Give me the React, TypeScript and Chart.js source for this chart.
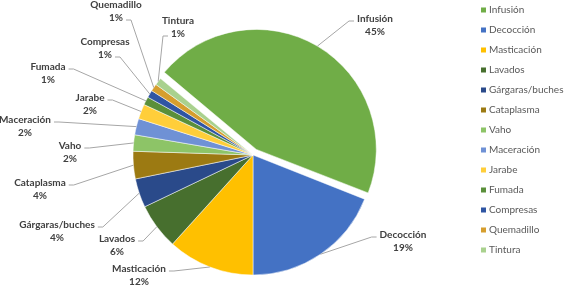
import React, { useEffect, useRef } from "react";
import { Chart, registerables } from "chart.js";

Chart.register(...registerables);

// ---- data ----
const categories = [
  "Infusión",
  "Decocción",
  "Masticación",
  "Lavados",
  "Gárgaras/buches",
  "Cataplasma",
  "Vaho",
  "Maceración",
  "Jarabe",
  "Fumada",
  "Compresas",
  "Quemadillo",
  "Tintura",
];
const values = [45, 19, 11.7, 6.2, 3.9, 3.7, 2.2, 2.2, 2.0, 1.1, 1.0, 1.0, 1.0];
const colors = [
  "#70AD47",
  "#4472C4",
  "#FFC000",
  "#476F2E",
  "#2A4A8A",
  "#9C7A12",
  "#8DC467",
  "#6F91D5",
  "#FFCE3A",
  "#5A8F3A",
  "#2F55A3",
  "#D69E2E",
  "#A9D18E",
];
const explode = [26, 0, 0, 0, 0, 0, 0, 0, 0, 0, 0, 0, 0];

// ---- label layout (text positions: center x, first-line y) ----
const labelPos: [number, number][] = [
  [375, 19],
  [403, 235],
  [139, 269],
  [117, 239],
  [57, 225],
  [40, 183],
  [70, 146],
  [25, 120],
  [90, 98],
  [48, 67],
  [105, 42],
  [116, 5],
  [178, 21],
];
// which text line the leader attaches to (0 = name, 1 = percentage)
const labelAttach = [0, 0, 0, 0, 0, 0, 0, 0, 0, 0, 1, 1, 1];

const total = values.reduce((a, b) => a + b, 0);
const pctLabels = values.map((v) => Math.round((v / total) * 100) + "%");

const LINE_H = 13;

const pieLabelsPlugin = {
  id: "pieLabels",
  afterDatasetsUpdate(chart: any) {
    // Keep exploded slices at the same radius as the others (Excel style)
    const meta = chart.getDatasetMeta(0);
    meta.data.forEach((arc: any) => {
      const off = (arc.options?.offset || 0) / 4;
      if (off > 0) {
        const circ = arc.endAngle - arc.startAngle;
        const fix = 1 - Math.sin(Math.min(Math.PI, circ || 0));
        arc.outerRadius = arc.outerRadius - off * fix;
      }
    });
  },
  afterDraw(chart: any) {
    const ctx: CanvasRenderingContext2D = chart.ctx;
    const meta = chart.getDatasetMeta(0);
    ctx.save();
    // data labels with leader lines
    meta.data.forEach((arc: any, i: number) => {
      const off = (arc.options?.offset || 0) / 4;
      const circ = arc.endAngle - arc.startAngle;
      const fix = 1 - Math.sin(Math.min(Math.PI, circ || 0));
      const R = arc.outerRadius + off * fix;
      const mid = (arc.startAngle + arc.endAngle) / 2;
      const ax = arc.x + Math.cos(mid) * (R + off);
      const ay = arc.y + Math.sin(mid) * (R + off);
      const [lx, ly] = labelPos[i];
      ctx.font = "bold 10px Lato";
      ctx.textAlign = "center";
      ctx.textBaseline = "middle";
      ctx.fillStyle = "#404040";
      ctx.fillText(categories[i], lx, ly);
      ctx.fillText(pctLabels[i], lx, ly + LINE_H);
      const line = labelAttach[i];
      const txt = line === 0 ? categories[i] : pctLabels[i];
      const w = ctx.measureText(txt).width;
      const side = ax > lx ? 1 : -1;
      const sx = lx + side * (w / 2 + 3);
      const sy = ly + line * LINE_H + 2;
      ctx.strokeStyle = "#A6A6A6";
      ctx.lineWidth = 1;
      ctx.beginPath();
      ctx.moveTo(sx, sy);
      ctx.lineTo(sx + side * 5, sy);
      ctx.lineTo(ax, ay);
      ctx.stroke();
    });
    // legend
    ctx.font = "10px Lato";
    ctx.textAlign = "left";
    ctx.textBaseline = "middle";
    categories.forEach((c, i) => {
      const y = 10 + 20 * i;
      ctx.fillStyle = colors[i];
      ctx.fillRect(481, y - 2.5, 5, 5);
      ctx.fillStyle = "#595959";
      ctx.fillText(c, 489, y);
    });
    ctx.restore();
  },
};

export default function App() {
  const ref = useRef<HTMLCanvasElement>(null);
  useEffect(() => {
    document.body.style.margin = "0";
    const chart = new Chart(ref.current as HTMLCanvasElement, {
      type: "pie",
      data: {
        labels: categories,
        datasets: [
          {
            data: values,
            backgroundColor: colors,
            borderColor: "#FFFFFF",
            borderWidth: 0.5,
            offset: explode,
          },
        ],
      },
      options: {
        responsive: false,
        animation: false,
        rotation: -(values[0] + values[1]) / total * 360 + 180,
        radius: 120,
        layout: { padding: { left: 0, right: 59, top: 24, bottom: 0 } },
        plugins: {
          legend: { display: false },
          tooltip: { enabled: false },
        },
      },
      plugins: [pieLabelsPlugin],
    } as any);
    return () => chart.destroy();
  }, []);
  return (
    <div style={{ width: 565, height: 286 }}>
      <canvas ref={ref} width={565} height={286} style={{ display: "block" }} />
    </div>
  );
}
